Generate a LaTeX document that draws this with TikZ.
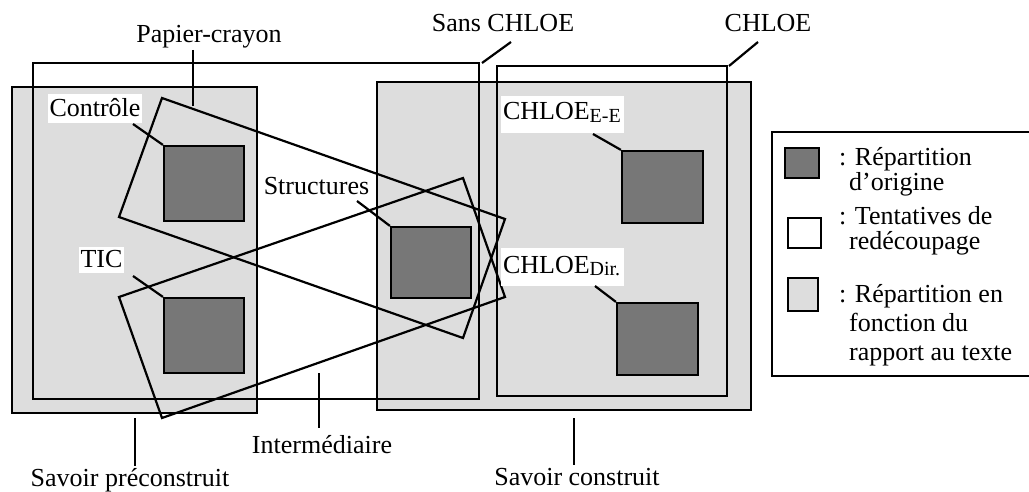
\documentclass[tikz,border=0pt]{standalone}
\usepackage{fontspec}
\setmainfont{Liberation Serif}
\definecolor{lightg}{HTML}{DDDDDD}
\definecolor{darkg}{HTML}{777777}
\begin{document}
\begin{tikzpicture}[x=1pt,y=-1pt,line width=2.2pt,
  txt/.style={font=\fontsize{26}{28}\selectfont,inner sep=0pt},
  legtxt/.style={font=\fontsize{26}{21}\selectfont,inner sep=0pt,align=left,anchor=base west},
  wlab/.style={txt,fill=white,inner xsep=1.5pt,inner ysep=0pt},
  sublab/.style={txt,fill=white,text width=119pt,align=left,inner xsep=2pt,inner ysep=0pt,text depth=13pt},
  sq/.style={draw,fill=darkg,inner sep=0pt},
  grey/.style={draw,fill=lightg},
  outl/.style={draw}]
\useasboundingbox (0,0) rectangle (1029,492);
% grey areas
\draw[grey] (12,87) rectangle (257,413);
\draw[grey] (377,82) rectangle (751,410);
% outline rectangles
\draw[outl] (33,63) rectangle (479,399);
\draw[outl] (497,66) rectangle (727,396);
% dark squares
\node[sq,minimum width=80pt,minimum height=75pt] (sqC) at (204,183.5) {};
\node[sq,minimum width=80pt,minimum height=75pt] (sqT) at (204,335.5) {};
\node[sq,minimum width=80pt,minimum height=71pt] (sqS) at (431,262.5) {};
\node[sq,minimum width=81pt,minimum height=72pt] (sqE) at (662.5,187) {};
\node[sq,minimum width=81pt,minimum height=72pt] (sqD) at (657.5,339) {};
% rotated rectangles
\coordinate (p1) at (162,98);
\coordinate (p2) at (505,219);
\coordinate (p3) at (463,338);
\coordinate (p4) at (119,217);
\draw (p1) -- (p2) -- (p3) -- (p4) -- cycle;
\coordinate (t1) at (119,297);
\coordinate (t2) at (463,178);
\coordinate (t3) at (505,297);
\coordinate (t4) at (162,418);
\draw (t1) -- (t2) -- (t3) -- (t4) -- cycle;
% labels
\node[txt,anchor=base] (lPC) at (209,43) {Papier-crayon};
\node[txt,anchor=base] (lSC) at (503,32) {Sans CHLOE};
\node[txt,anchor=base] (lCH) at (768,32) {CHLOE};
\node[wlab,text height=23pt,text depth=6pt] (lCo) at (95,108.5) {Contrôle};
\node[wlab,text height=20pt,text depth=6pt] (lTI) at (101.5,260) {TIC};
\node[txt,anchor=base] (lSt) at (316.5,195) {Structures};
\node[sublab,text height=24pt] (lEE) at (562.5,114.5) {CHLOE\raisebox{-3pt}{\fontsize{20}{20}\selectfont E-E}};
\node[sublab,text height=25pt] (lDi) at (562.5,267) {CHLOE\raisebox{-2pt}{\fontsize{20}{20}\selectfont Dir.}};
\node[txt,anchor=base] (lIn) at (322,453) {Intermédiaire};
\node[txt,anchor=base] (lSP) at (130,486) {Savoir préconstruit};
\node[txt,anchor=base] (lSCo) at (577,485) {Savoir construit};
% leader lines
\coordinate (a1) at (193,50);  \coordinate (a2) at (193,106);
\draw (a1) -- (a2);
\coordinate (b1) at (511,42);  \coordinate (b2) at (482,63);
\draw (b1) -- (b2);
\coordinate (c1) at (758,42);  \coordinate (c2) at (729,66);
\draw (c1) -- (c2);
\coordinate (d1) at (133,124);
\draw (d1) -- (sqC.north west);
\coordinate (e1) at (133,276);
\draw (e1) -- (sqT.north west);
\coordinate (f1) at (357,201);
\draw (f1) -- (sqS.north west);
\coordinate (g1) at (593,134);
\draw (g1) -- (sqE.north west);
\coordinate (h1) at (595,286);
\draw (h1) -- (sqD.north west);
\coordinate (i1) at (319,373);  \coordinate (i2) at (319,428);
\draw (i1) -- (i2);
\coordinate (j1) at (135,418);  \coordinate (j2) at (135,466);
\draw (j1) -- (j2);
\coordinate (k1) at (574,418);  \coordinate (k2) at (574,465);
\draw (k1) -- (k2);
% legend
\draw (1030,132) -- (772,132) -- (772,376) -- (1030,376);
\node[sq,minimum width=34pt,minimum height=30pt] (lg1) at (802,163) {};
\node[draw,fill=white,inner sep=0pt,minimum width=33pt,minimum height=30pt] (lg2) at (804.5,233) {};
\node[draw,fill=lightg,inner sep=0pt,minimum width=30pt,minimum height=33pt] (lg3) at (803,294.5) {};
\node[legtxt] (leg1) at (838,190) {: Répartition\\\hspace*{10pt}d’origine};
\node[legtxt,font=\fontsize{26}{25}\selectfont] (leg2) at (838,250) {: Tentatives de\\\hspace*{10pt}redécoupage};
\node[legtxt,font=\fontsize{26}{29}\selectfont] (leg3) at (838,360) {: Répartition en\\\hspace*{10pt}fonction du\\\hspace*{10pt}rapport au texte};
\end{tikzpicture}
\end{document}
